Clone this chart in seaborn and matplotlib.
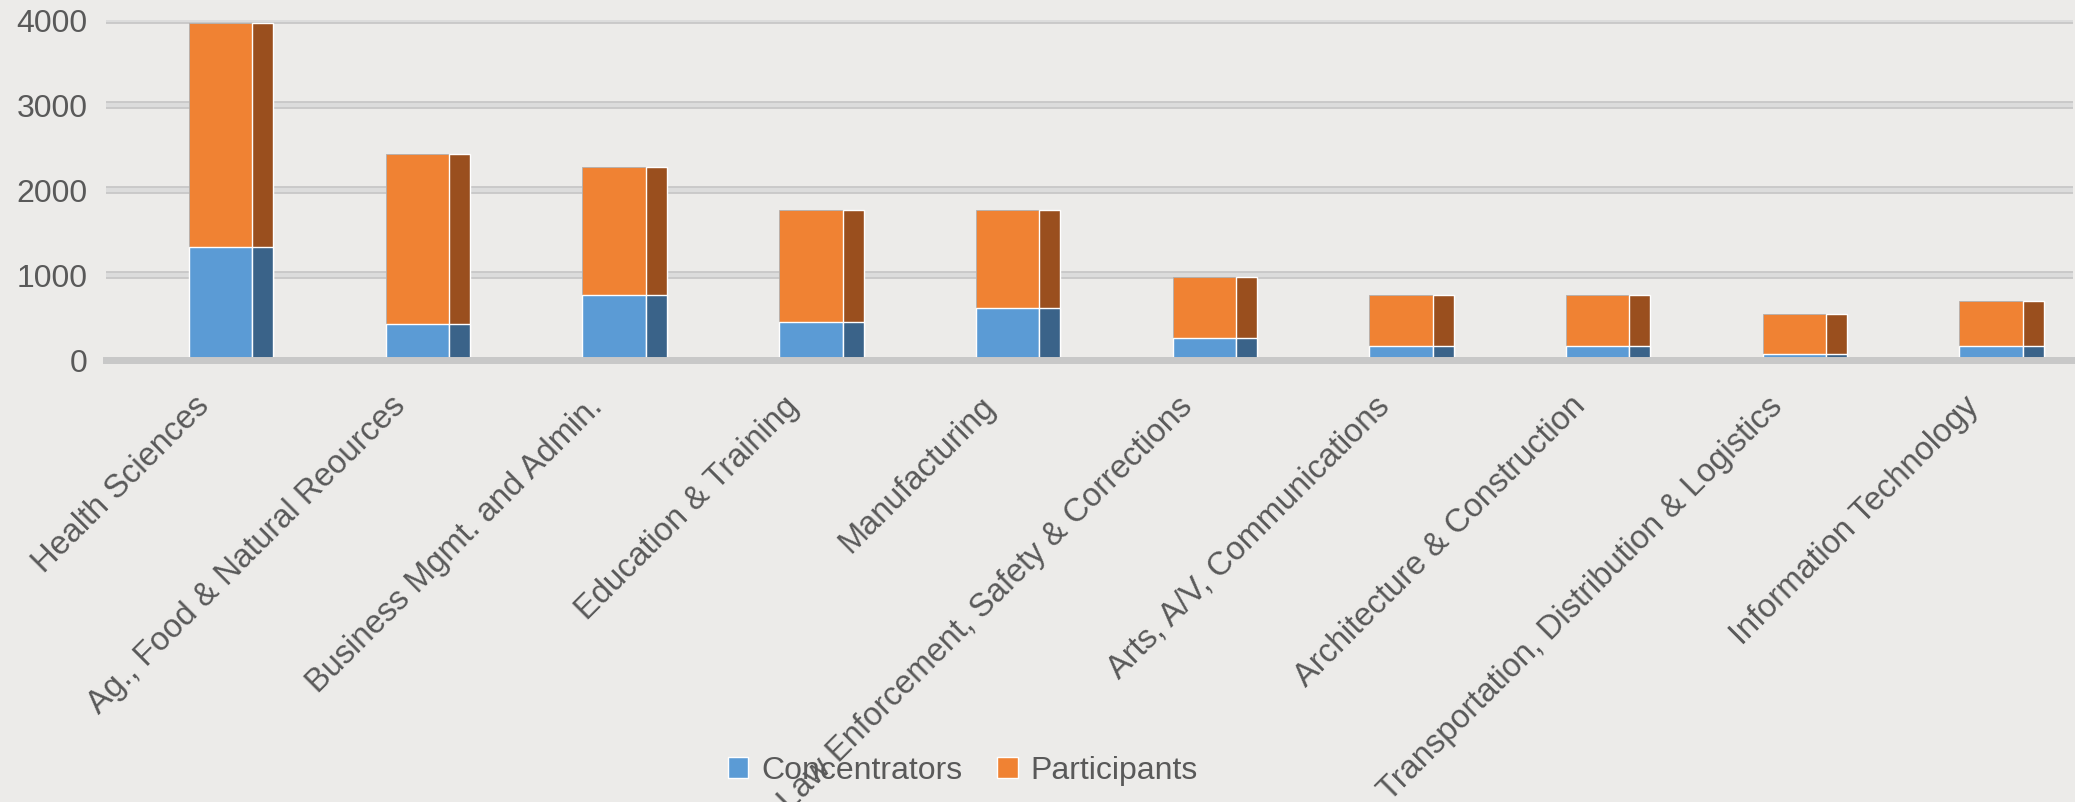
import numpy as np
import matplotlib
matplotlib.use("Agg")
import matplotlib.pyplot as plt
import seaborn as sns
from matplotlib.patches import Patch

categories = ["Health Sciences", "Ag., Food & Natural Reources", "Business Mgmt. and Admin.",
              "Education & Training", "Manufacturing", "Law Enforcement, Safety & Corrections",
              "Arts, A/V, Communications", "Architecture & Construction",
              "Transportation, Distribution & Logistics", "Information Technology"]
concentrators = [1330, 430, 770, 450, 610, 260, 160, 160, 70, 160]
participants = [2630, 2000, 1500, 1320, 1160, 720, 600, 600, 470, 540]
y_ticks = [0, 1000, 2000, 3000, 4000]

totals = [c + p for c, p in zip(concentrators, participants)]

BG = "#ECEBE9"
BLUE, BLUE_DARK = "#5B9BD5", "#3A6389"
ORANGE, ORANGE_DARK = "#F08233", "#9A4F1E"
TXT = "#595959"

sns.set_theme(style="white")
plt.rcParams["font.family"] = ["Liberation Sans", "DejaVu Sans"]

fig = plt.figure(figsize=(20.75, 8.02), dpi=100, facecolor=BG)
ax = fig.add_axes([0.051, 0.551, 0.948, 0.424])
ax.set_facecolor(BG)

# gridlines (3D-ish band look)
for v in y_ticks[1:]:
    ax.axhline(v, color="#c4c4c4", lw=5.5, zorder=0)
    ax.axhline(v, color="#dcdcdc", lw=3.2, zorder=0)

front_w, side_w = 0.322, 0.107
n = len(categories)
idx = np.arange(n)

sns.barplot(x=categories, y=totals, color=ORANGE, width=front_w, saturation=1, ax=ax, zorder=3,
            edgecolor="#b0b0b0", linewidth=0.6)
sns.barplot(x=categories, y=concentrators, color=BLUE, width=front_w, saturation=1, ax=ax, zorder=4)
# side faces
ax.bar(idx + front_w / 2, totals, width=side_w, align="edge", color=ORANGE_DARK, zorder=3)
ax.bar(idx + front_w / 2, concentrators, width=side_w, align="edge", color=BLUE_DARK, zorder=4)

shift = 0.084
ax.set_xlim(-0.5 - shift, n - 0.5 - shift)
ax.set_ylim(0, 4000)
ax.set_yticks(y_ticks)
ax.set_yticklabels([str(v) for v in y_ticks], fontsize=23, color=TXT)
ax.tick_params(axis="y", length=0, pad=13)

ax.set_xticks(idx - shift)
ax.set_xticklabels(categories, rotation=45, ha="right", va="center", rotation_mode="anchor",
                   fontsize=23.5, color=TXT)
ax.set_xticks(np.arange(n + 1) - 0.5 - shift, minor=True)
ax.tick_params(axis="x", which="major", length=0, pad=30)
ax.tick_params(axis="x", which="minor", length=12, width=1.6, color="#bdbdbd", direction="out")
ax.set_xlabel("")
ax.set_ylabel("")

for s in ["left", "right", "top"]:
    ax.spines[s].set_visible(False)
ax.spines["bottom"].set_color("#c8c8c8")
ax.spines["bottom"].set_linewidth(5)
ax.spines["bottom"].set_zorder(5)

handles = [Patch(facecolor=BLUE, label="Concentrators"), Patch(facecolor=ORANGE, label="Participants")]
leg = fig.legend(handles=handles, loc="center", bbox_to_anchor=(0.464, 0.039), ncol=2,
                 frameon=False, fontsize=23, handlelength=0.65, handleheight=0.65,
                 handletextpad=0.4, columnspacing=1.1)
for t in leg.get_texts():
    t.set_color(TXT)

fig.savefig("out.png", dpi=100, facecolor=BG)
